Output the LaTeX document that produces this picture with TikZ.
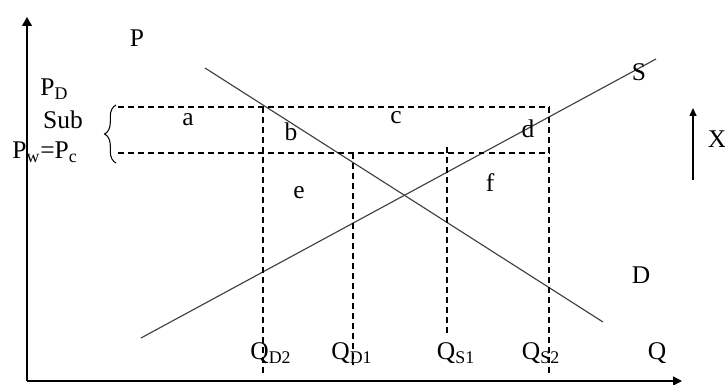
\documentclass[tikz,border=0pt]{standalone}
\usepackage{fontspec}
\setmainfont{Liberation Serif}
\usetikzlibrary{arrows.meta,decorations.pathreplacing}

\begin{document}
\begin{tikzpicture}[x=0.02cm,y=-0.02cm,font=\fontsize{14.5}{17}\selectfont,
    curve/.style={draw=black!75,line width=0.65pt},
    guide/.style={dash pattern=on 3.4pt off 2.3pt,line width=0.6pt},
    lbl/.style={inner sep=0pt}]
        \useasboundingbox (0,0) rectangle (725,385);

        \coordinate (O) at (27,381);
        \coordinate (Ptop) at (27,17);
        \coordinate (Qend) at (682,381);

        \coordinate (D1) at (205,68); % demand
        \coordinate (D2) at (603,322);
        \coordinate (S1) at (141,338); % supply
        \coordinate (S2) at (656,59);

        \coordinate (PDl) at (118,107); % P_D level
        \coordinate (PDr) at (549,107);
        \coordinate (PWl) at (118,153); % P_w level
        \coordinate (PWr) at (549,153);

        \coordinate (qd2a) at (263,107);
        \coordinate (qd2b) at (263,373);
        \coordinate (qd1a) at (353,153);
        \coordinate (qd1b) at (353,365);
        \coordinate (qs1a) at (447,147);
        \coordinate (qs1b) at (447,335);
        \coordinate (qs2a) at (549,107);
        \coordinate (qs2b) at (549,373);

        \coordinate (Xlo) at (693,180);
        \coordinate (Xhi) at (693,108);

        % axes
        \draw[line width=0.8pt,-{Triangle[length=5pt,width=5.5pt]}] (O) -- (Ptop);
        \draw[line width=0.8pt,-{Triangle[length=5pt,width=5pt]}] (O) -- (Qend);

        % curves
        \draw[curve] (D1) -- (D2);
        \draw[curve] (S1) -- (S2);

        % price levels and quantities
        \draw[guide] (PDl) -- (PDr);
        \draw[guide] (PWl) -- (PWr);
        \draw[guide] (qd2a) -- (qd2b);
        \draw[guide] (qd1a) -- (qd1b);
        \draw[guide] (qs1a) -- (qs1b);
        \draw[guide] (qs2a) -- (qs2b);

        \draw[line width=0.6pt,decorate,decoration={brace,amplitude=6.5pt}] (116,163) -- (116,105);

        \draw[line width=0.7pt,-{Triangle[length=4.5pt,width=4pt]}] (Xlo) -- (Xhi);

        \node[lbl] (p) at (137,38) {P};
        \node[lbl,anchor=base west] (pd) at (40,96) {P\textsubscript{D}};
        \node[lbl] (sub) at (63,120) {Sub};
        \node[lbl,anchor=base west] (pw) at (12,159) {P\textsubscript{w}=P\textsubscript{c}};

        \node[lbl] (a) at (188,120) {a};
        \node[lbl] (b) at (291,132) {b};
        \node[lbl] (c) at (396,118) {c};
        \node[lbl] (d) at (528,129) {d};
        \node[lbl] (e) at (299,193) {e};
        \node[lbl] (f) at (490,183) {f};

        \node[lbl] (s) at (639,72) {S};
        \node[lbl] (dd) at (641,275) {D};
        \node[lbl] (x) at (717,139) {X};

        \node[lbl,anchor=base] (lqd2) at (271,360) {Q\textsubscript{D2}};
        \node[lbl,anchor=base] (lqd1) at (352,360) {Q\textsubscript{D1}};
        \node[lbl,anchor=base] (lqs1) at (456,360) {Q\textsubscript{S1}};
        \node[lbl,anchor=base] (lqs2) at (541,360) {Q\textsubscript{S2}};
        \node[lbl,anchor=base] (q) at (657,360) {Q};
    \end{tikzpicture}
\end{document}
